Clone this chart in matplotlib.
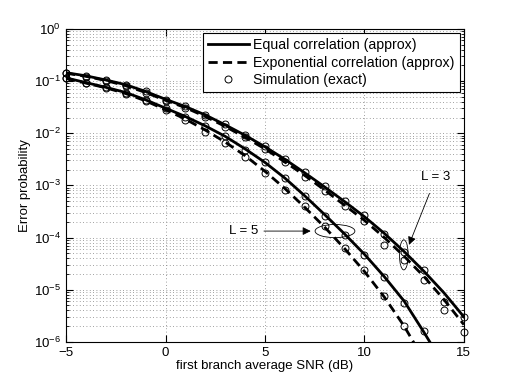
import numpy as np
import matplotlib
matplotlib.use("Agg")
import matplotlib.pyplot as plt
from matplotlib.patches import Ellipse

plt.rcParams['font.family'] = ['Liberation Sans', 'DejaVu Sans']
plt.rcParams['mathtext.fontset'] = 'custom'
plt.rcParams['mathtext.rm'] = 'Liberation Sans'
plt.rcParams['mathtext.it'] = 'Liberation Sans'

snr = np.arange(-5, 16)

# log10 of error probability
eq3 = [-0.84, -0.90, -0.98, -1.07, -1.20, -1.35, -1.49, -1.65, -1.84, -2.04, -2.26,
       -2.50, -2.76, -3.03, -3.31, -3.60, -3.92, -4.27, -4.65, -5.06, -5.52]
exp3 = [-0.85, -0.91, -0.99, -1.09, -1.22, -1.37, -1.51, -1.68, -1.87, -2.08, -2.30,
        -2.55, -2.81, -3.09, -3.38, -3.67, -4.00, -4.36, -4.75, -5.19, -5.67]
eq5 = [-0.94, -1.03, -1.12, -1.22, -1.36, -1.52, -1.68, -1.86, -2.06, -2.30, -2.56,
       -2.86, -3.20, -3.56, -3.93, -4.32, -4.75, -5.22, -5.82, -6.45]
exp5 = [-0.95, -1.04, -1.13, -1.24, -1.38, -1.55, -1.73, -1.94, -2.17, -2.43, -2.73,
        -3.06, -3.42, -3.80, -4.21, -4.65, -5.14, -5.70, -6.35]

sim_eq3 = [-0.84, -0.90, -0.98, -1.08, -1.20, -1.36, -1.48, -1.65, -1.83, -2.03, -2.24,
           -2.50, -2.74, -3.01, -3.29, -3.56, -3.93, -4.27, -4.63, -5.23, -5.52]
sim_exp3 = [-0.85, -0.92, -1.00, -1.10, -1.22, -1.38, -1.52, -1.68, -1.88, -2.08, -2.30,
            -2.56, -2.83, -3.10, -3.40, -3.68, -4.15, -4.43, -4.81, -5.38, -5.81]
sim_eq5 = [-0.94, -1.03, -1.12, -1.23, -1.36, -1.52, -1.68, -1.86, -2.06, -2.32, -2.56,
           -2.86, -3.20, -3.58, -3.95, -4.33, -4.75, -5.25, -5.80]
sim_exp5 = [-0.95, -1.04, -1.13, -1.24, -1.38, -1.56, -1.74, -1.97, -2.19, -2.45, -2.76,
            -3.08, -3.40, -3.78, -4.20, -4.62, -5.12, -5.70]

fig = plt.figure(figsize=(5.12, 3.85), dpi=100)
ax = fig.add_axes([0.129, 0.112, 0.777, 0.813])

lw = 2.0
dash = (3.3, 1.9)
ax.plot(snr[:len(eq3)], 10.0 ** np.array(eq3), 'k-', lw=lw, label='Equal correlation (approx)')
ax.plot(snr[:len(exp3)], 10.0 ** np.array(exp3), 'k--', lw=lw, dashes=dash,
        label='Exponential correlation (approx)')
ax.plot(snr[:len(eq5)], 10.0 ** np.array(eq5), 'k-', lw=lw)
ax.plot(snr[:len(exp5)], 10.0 ** np.array(exp5), 'k--', lw=lw, dashes=dash)

mk = dict(ls='none', marker='o', mfc='none', mec='k', ms=5, mew=0.7, clip_on=False)
ax.plot(snr[:len(sim_eq3)], 10.0 ** np.array(sim_eq3), label='Simulation (exact)', **mk)
ax.plot(snr[:len(sim_exp3)], 10.0 ** np.array(sim_exp3), **mk)
ax.plot(snr[:len(sim_eq5)], 10.0 ** np.array(sim_eq5), **mk)
ax.plot(snr[:len(sim_exp5)], 10.0 ** np.array(sim_exp5), **mk)

ax.set_yscale('log')
ax.set_xlim(-5, 15)
ax.set_ylim(1e-6, 1)
ax.set_xticks([-5, 0, 5, 10, 15])
ax.set_yticks([10.0 ** k for k in range(-6, 1)])
ax.set_yticklabels([r'$10^{%d}$' % k for k in range(-6, 1)])

ax.grid(True, which='major', color='0.5', ls=(0, (1, 3)), lw=0.6)
ax.grid(True, which='minor', axis='y', color='0.5', ls=(0, (1, 3)), lw=0.6)
ax.tick_params(which='both', direction='in', top=True, right=True, labelsize=9.5)
ax.tick_params(which='major', length=5)
ax.tick_params(which='minor', length=2.5)
for s in ax.spines.values():
    s.set_linewidth(0.8)

ax.set_xlabel('first branch average SNR (dB)', fontsize=9.5, labelpad=1)
ax.set_ylabel('Error probability', fontsize=9.5, labelpad=2)

leg = ax.legend(loc='upper right', fontsize=10.2, handlelength=2.9, borderaxespad=0.3,
                fancybox=False, framealpha=1, edgecolor='k', borderpad=0.35,
                labelspacing=0.25, handletextpad=0.3)
leg.get_frame().set_linewidth(0.8)

# L = 5 annotation
ax.add_patch(Ellipse((0.676, 0.354), 0.10, 0.042, transform=ax.transAxes,
                     fill=False, ec='k', lw=0.6))
ax.annotate('L = 5', xy=(0.622, 0.354), xycoords='axes fraction',
            xytext=(0.41, 0.354), textcoords='axes fraction', fontsize=9.5,
            ha='left', va='center',
            arrowprops=dict(arrowstyle='-|>', color='k', lw=0.6, mutation_scale=12))

# L = 3 annotation
ax.add_patch(Ellipse((0.849, 0.278), 0.022, 0.096, transform=ax.transAxes,
                     fill=False, ec='k', lw=0.6))
ax.annotate('L = 3', xy=(0.862, 0.31), xycoords='axes fraction',
            xytext=(0.93, 0.527), textcoords='axes fraction', fontsize=9.5,
            ha='center', va='center',
            arrowprops=dict(arrowstyle='-|>', color='k', lw=0.6, mutation_scale=12,
                            shrinkA=6, shrinkB=0))

fig.savefig('out.png', dpi=100)
